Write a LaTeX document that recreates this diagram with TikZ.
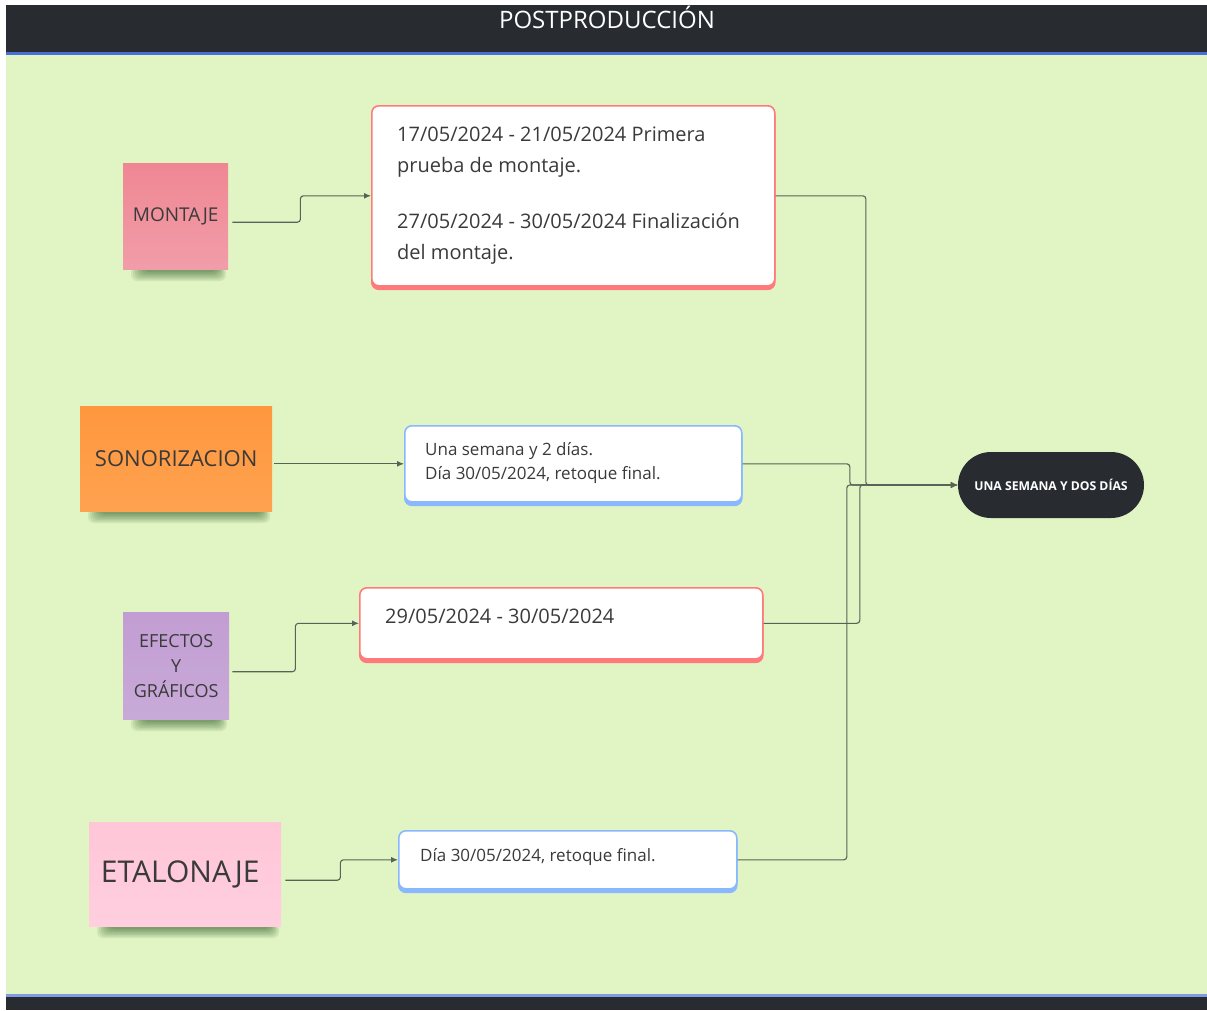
\documentclass[tikz,border=0pt]{standalone}
\usepackage{fontspec}
\setmainfont{Open Sans}
\usetikzlibrary{arrows.meta,calc}
\definecolor{bg}{HTML}{E1F5C4}
\definecolor{dark}{HTML}{282C31}
\definecolor{bluel}{HTML}{4A6FD8}
\definecolor{redb}{HTML}{FF7B7B}
\definecolor{blueb}{HTML}{8AB8FF}
\definecolor{txt}{HTML}{3A3A3A}
\definecolor{montA}{HTML}{EF8793}
\definecolor{montB}{HTML}{F19DA9}
\definecolor{sonoA}{HTML}{FF973E}
\definecolor{sonoB}{HTML}{FFA24F}
\definecolor{efecA}{HTML}{C29DD3}
\definecolor{efecB}{HTML}{C8AAD8}
\definecolor{etalA}{HTML}{FFC6D8}
\definecolor{etalB}{HTML}{FFCFDF}
\definecolor{linec}{HTML}{5A6156}
\newcommand{\stickshadow}[3]{%
  \foreach \i in {0,...,6}{%
    \fill[black!80!green,opacity=0.08,rounded corners=6pt] (#1+8+\i*2,#3-3) rectangle (#2-2-\i*1.5,#3+12-\i*1.5);}}
\tikzset{
  sticky/.style={anchor=north west,inner sep=0pt,align=center,text=txt},
  redbox/.style={anchor=north west,draw=redb,line width=1.6pt,fill=white,rounded corners=7pt,
    preaction={draw=redb,fill=redb,line width=1.6pt,rounded corners=7pt,transform canvas={yshift=-3.5pt}}},
  bluebox/.style={anchor=north west,draw=blueb,line width=1.6pt,fill=white,rounded corners=7pt,
    preaction={draw=blueb,fill=blueb,line width=1.6pt,rounded corners=7pt,transform canvas={yshift=-3.5pt}}},
  boxtext/.style={anchor=west,align=left,text=txt,inner sep=0pt},
  conn/.style={draw=linec,line width=1.1pt,rounded corners=3pt},
  arr/.style={-{Latex[length=7pt,width=6pt]}},
}
\begin{document}
\begin{tikzpicture}[x=1pt,y=-1pt]
\useasboundingbox (0,0) rectangle (1207,1010);
\fill[white] (0,0) rectangle (1207,1010);
% bars and background
\fill[dark] (6,5) rectangle (1207,52);
\fill[bluel] (6,52) rectangle (1207,54.5);
\fill[bg] (6,54.5) rectangle (1207,994);
\fill[bluel!70!white] (6,994) rectangle (1207,997);
\fill[dark] (6,997) rectangle (1207,1010);
\node[text=white,font=\fontsize{24}{28}\selectfont] (title) at (607,17) {POSTPRODUCCIÓN};

% shadows
\stickshadow{123}{228}{269}
\stickshadow{80}{272}{511}
\stickshadow{123}{229}{719}
\stickshadow{89}{281}{926}

% sticky notes
\node[sticky,minimum width=105pt,minimum height=106pt,top color=montA,bottom color=montB,
  font=\fontsize{19}{22}\selectfont] (mont) at (123,163) {MONTAJE};
\node[sticky,minimum width=192pt,minimum height=105pt,top color=sonoA,bottom color=sonoB,
  font=\fontsize{22}{26}\selectfont] (sono) at (80,406) {SONORIZACION};
\node[sticky,minimum width=106pt,minimum height=107pt,top color=efecA,bottom color=efecB,
  font=\fontsize{18}{25}\selectfont] (efec) at (123,612) {EFECTOS\\Y\\GRÁFICOS};
\node[sticky,minimum width=192pt,minimum height=104pt,top color=etalA,bottom color=etalB,
  font=\fontsize{30}{34}\selectfont] (etal) at (89,822) {\hspace*{-10pt}ETALONAJE};

% boxes
\node[redbox,minimum width=403pt,minimum height=180pt] (box1) at (371,105) {};
\node[boxtext,font=\fontsize{20}{31}\selectfont] (t1) at ($(box1.west)+(26,0)$)
  {17/05/2024 - 21/05/2024 Primera\\prueba de montaje.\\[25pt]27/05/2024 - 30/05/2024 Finalización\\del montaje.};
\node[bluebox,minimum width=337pt,minimum height=76pt] (box2) at (404,425) {};
\node[boxtext,font=\fontsize{17}{24}\selectfont] (t2) at ($(box2.west)+(21,-1)$)
  {Una semana y 2 días.\\Día 30/05/2024, retoque final.};
\node[redbox,minimum width=403pt,minimum height=71pt] (box3) at (359,587) {};
\node[boxtext,font=\fontsize{20}{24}\selectfont] (t3) at ($(box3.west)+(26,-7)$)
  {29/05/2024 - 30/05/2024};
\node[bluebox,minimum width=338pt,minimum height=58pt] (box4) at (398,830) {};
\node[boxtext,font=\fontsize{17}{24}\selectfont] (t4) at ($(box4.west)+(22,-3)$)
  {Día 30/05/2024, retoque final.};

% terminal
\node[fill=dark,rounded corners=33pt,minimum width=186pt,minimum height=66pt,text=white,
  font=\bfseries\fontsize{12.2}{14}\selectfont,inner sep=0pt] (term) at (1051,485) {UNA SEMANA Y DOS DÍAS};

% left connectors
\draw[conn,arr] ($(mont.east)+(4,6)$) -- ++(68,0) |- (box1.west);
\draw[conn,arr] ($(sono.east |- box2.west)+(2,0)$) -- (box2.west);
\draw[conn,arr] ($(efec.east)+(3,6)$) -- ++(63,0) |- (box3.west);
\draw[conn,arr] ($(etal.east)+(4,6)$) -- ++(55,0) |- (box4.west);

% right connectors
\draw[conn,arr] (box1.east) -| ($(term.west)+(-92,0)$) -- (term.west);
\draw[conn,arr] (box2.east) -| ($(term.west)+(-108,0)$) -- (term.west);
\draw[conn,arr] (box3.east) -| ($(term.west)+(-98,0)$) -- (term.west);
\draw[conn,arr] (box4.east) -| ($(term.west)+(-111,0)$) -- (term.west);
\end{tikzpicture}
\end{document}
